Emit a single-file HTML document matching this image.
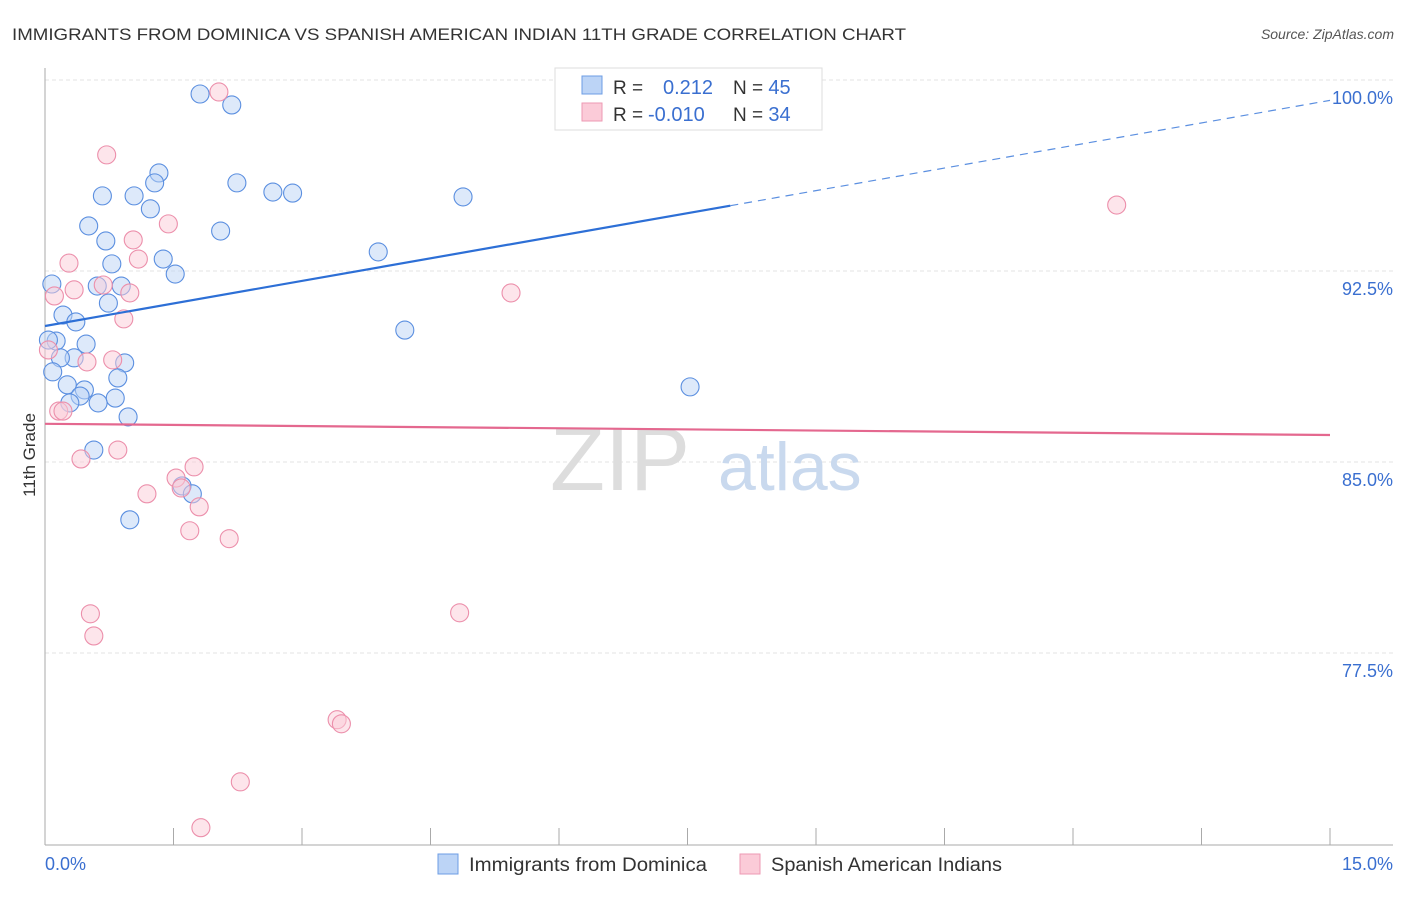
<!DOCTYPE html>
<html><head><meta charset="utf-8"><style>
body{margin:0;background:#fff;font-family:"Liberation Sans",sans-serif}
svg text{font-family:"Liberation Sans",sans-serif}
</style></head><body>
<svg width="1406" height="892">
<text x="12" y="40" font-size="17" fill="#333" textLength="894" lengthAdjust="spacingAndGlyphs">IMMIGRANTS FROM DOMINICA VS SPANISH AMERICAN INDIAN 11TH GRADE CORRELATION CHART</text>
<text x="1394" y="39" font-size="14" fill="#555" text-anchor="end" font-style="italic">Source: ZipAtlas.com</text>
<g id="grid"></g>
<text x="690" y="490" font-size="90" fill="#ddd" text-anchor="end" font-family="Liberation Serif">ZIP</text>
<text x="718" y="490" font-size="68" fill="#c9d9ee">atlas</text>
<line x1="45" y1="68" x2="45" y2="845" stroke="#aaa"/>
<line x1="45" y1="845" x2="1393" y2="845" stroke="#aaa"/>
<g id="ticks"></g>
<text x="35" y="455" font-size="17" fill="#333" text-anchor="middle" transform="rotate(-90 35 455)">11th Grade</text>
<text x="45" y="870" font-size="18" fill="#3a6fd0">0.0%</text>
<text x="1393" y="870" font-size="18" fill="#3a6fd0" text-anchor="end">15.0%</text>
<g id="pts"></g>
<g id="trends"></g>
<g>
<rect x="555" y="68" width="267" height="62" fill="#fff" stroke="#ddd"/>
<rect x="582" y="76" width="20" height="18" fill="#bcd4f6" stroke="#6d9de4"/>
<rect x="582" y="103" width="20" height="18" fill="#fbcbd8" stroke="#ee9ab3"/>
<text x="613" y="94" font-size="19" fill="#333">R = <tspan x="663" fill="#3a6fd0" font-size="20">0.212</tspan><tspan x="733" fill="#333">N = </tspan><tspan fill="#3a6fd0" font-size="20">45</tspan></text>
<text x="613" y="121" font-size="19" fill="#333">R = <tspan x="648" fill="#3a6fd0" font-size="20">-0.010</tspan><tspan x="733" fill="#333">N = </tspan><tspan fill="#3a6fd0" font-size="20">34</tspan></text>
</g>
<g>
<rect x="438" y="854" width="20" height="20" fill="#bcd4f6" stroke="#6d9de4"/>
<text x="469" y="871" font-size="19" fill="#333" textLength="238" lengthAdjust="spacingAndGlyphs">Immigrants from Dominica</text>
<rect x="740" y="854" width="20" height="20" fill="#fbcbd8" stroke="#ee9ab3"/>
<text x="771" y="871" font-size="19" fill="#333" textLength="231" lengthAdjust="spacingAndGlyphs">Spanish American Indians</text>
</g>
</svg>
<script>
const yTicks=[100,92.5,85,77.5];
const yTickLabels=["100.0%","92.5%","85.0%","77.5%"];
const blueX=[1.81,2.18,1.33,1.28,2.24,0.67,1.04,2.66,2.89,4.88,1.23,2.05,0.51,0.71,3.89,1.38,0.78,1.52,0.08,0.61,0.89,0.74,0.21,0.36,4.20,0.13,0.48,0.34,0.18,0.93,0.85,0.09,0.26,0.46,0.41,0.82,0.29,0.62,0.97,0.57,1.60,1.72,0.99,7.53,0.04];
const blueY=[99.45,99.02,96.35,95.96,95.96,95.45,95.45,95.60,95.56,95.41,94.94,94.07,94.27,93.68,93.25,92.97,92.78,92.38,91.99,91.91,91.91,91.24,90.77,90.50,90.18,89.75,89.63,89.09,89.09,88.89,88.30,88.54,88.03,87.83,87.59,87.51,87.32,87.32,86.77,85.47,84.06,83.75,82.73,87.95,89.79];
const pinkX=[2.03,0.72,1.44,1.03,0.28,1.09,0.34,0.68,0.99,0.11,5.44,0.92,0.79,0.49,0.04,0.16,0.21,0.42,0.85,1.19,1.53,1.74,1.59,1.80,1.69,2.15,0.53,0.57,4.84,3.41,3.46,2.28,1.82,12.51];
const pinkY=[99.53,97.06,94.35,93.72,92.81,92.97,91.76,91.95,91.64,91.52,91.64,90.62,89.01,88.93,89.40,87.00,87.00,85.12,85.47,83.75,84.37,84.81,83.98,83.24,82.30,81.99,79.04,78.17,79.08,74.88,74.72,72.44,70.64,95.09];
const blueTrend=[90.34,99.2];
const pinkTrend=[86.5,86.06];
const NS='http://www.w3.org/2000/svg';
const xs=v=>45+v*(1285/15);
const ys=v=>80+(100-v)*(191/7.5);
function mk(tag,attrs,parent){const e=document.createElementNS(NS,tag);for(const k in attrs)e.setAttribute(k,attrs[k]);document.getElementById(parent).appendChild(e);return e;}
yTicks.forEach((t,i)=>{
 const l=mk('line',{x1:45,x2:1393,y1:ys(t),y2:ys(t),stroke:'#e3e3e3','stroke-dasharray':'4,3'},'grid');
 
 
 const tx=mk('text',{x:1393,y:ys(t)+24,'font-size':18,fill:'#3a6fd0','text-anchor':'end'},'grid');
 tx.textContent=yTickLabels[i];
 
 
});
for(let i=1;i<=10;i++){
 const l=mk('line',{x1:xs(i*1.5),x2:xs(i*1.5),y1:828,y2:845,stroke:'#aaa'},'ticks');
 
 
}
function pts(X,Y,fill,stroke,name){X.forEach((x,i)=>{
 const c=mk('circle',{cx:xs(x),cy:ys(Y[i]),r:9,fill:fill,'fill-opacity':0.5,stroke:stroke,'stroke-width':1.1},'pts');
 
 
});}
pts(blueX,blueY,'#bcd4f6','#5b8fe0','dominica-point');
pts(pinkX,pinkY,'#fbcbd8','#ec8fab','spanish-american-indian-point');
const bAt=x=>blueTrend[0]+(blueTrend[1]-blueTrend[0])*x/15;
let l=mk('line',{x1:xs(0),y1:ys(bAt(0)),x2:xs(8),y2:ys(bAt(8)),stroke:'#2d6fd6','stroke-width':2.2},'trends');


l=mk('line',{x1:xs(8),y1:ys(bAt(8)),x2:xs(15),y2:ys(bAt(15)),stroke:'#5b8fe0','stroke-width':1.2,'stroke-dasharray':'8,6'},'trends');


l=mk('line',{x1:xs(0),y1:ys(pinkTrend[0]),x2:xs(15),y2:ys(pinkTrend[1]),stroke:'#e4688f','stroke-width':2.2},'trends');


</script>
</body></html>
